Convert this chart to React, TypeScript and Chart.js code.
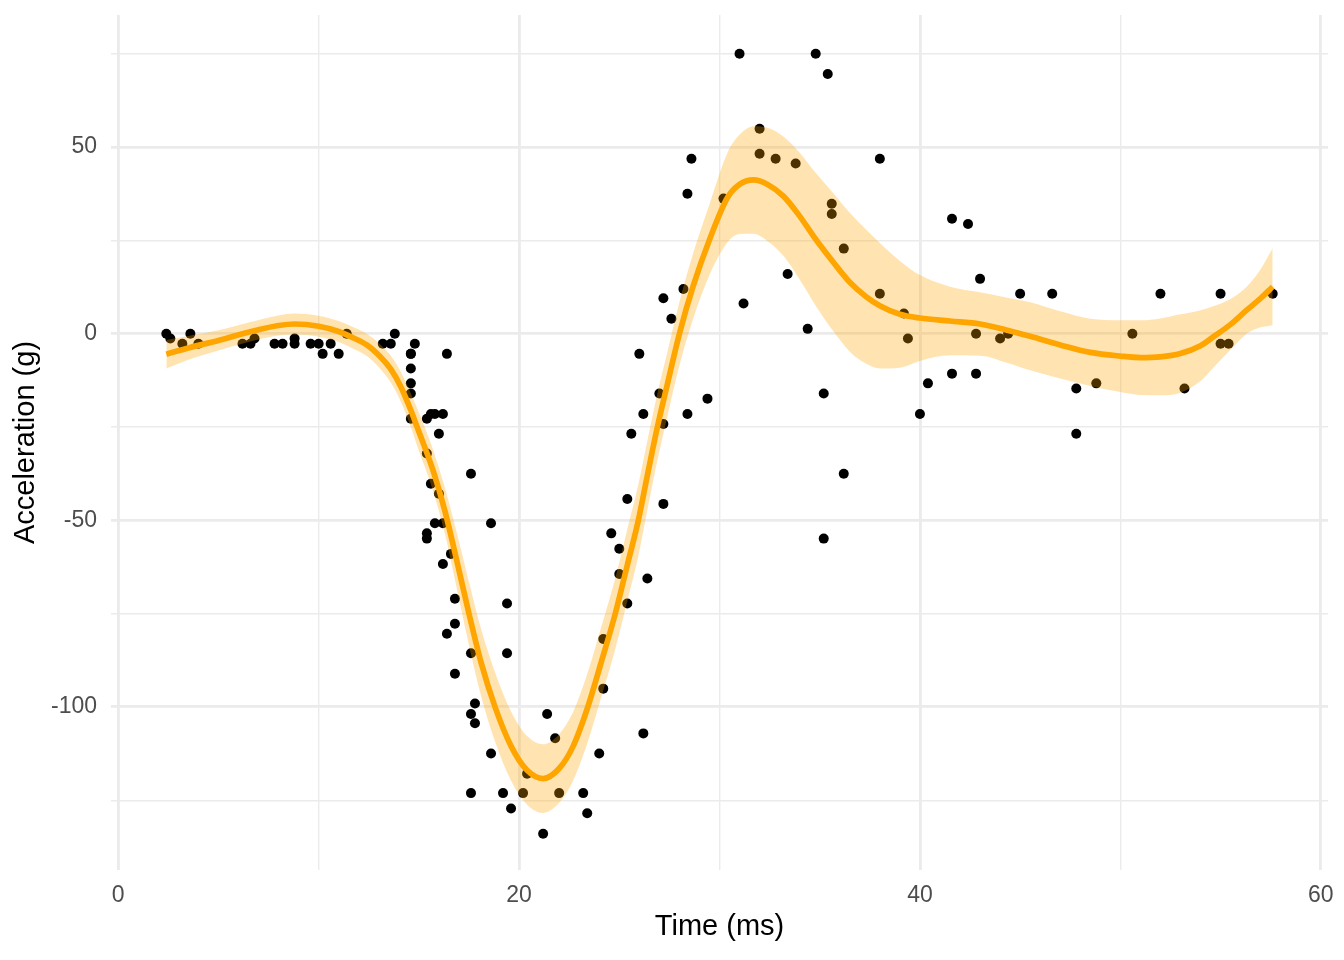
import { useEffect, useRef } from 'react';
import { Chart, registerables } from 'chart.js';

Chart.register(...registerables);

// raw observations (time in ms, head acceleration in g)
const times = [
  2.4, 2.6, 3.2, 3.6, 4.0, 6.2, 6.6, 6.8, 7.8, 8.2, 8.8, 8.8, 9.6, 10.0, 10.2, 10.6, 11.0, 11.4,
  13.2, 13.6, 13.8, 14.6, 14.6, 14.6, 14.6, 14.6, 14.6, 14.8, 15.4, 15.4, 15.4, 15.4, 15.6, 15.6,
  15.8, 15.8, 16.0, 16.0, 16.2, 16.2, 16.2, 16.4, 16.4, 16.6, 16.8, 16.8, 16.8, 17.6, 17.6, 17.6,
  17.6, 17.8, 17.8, 18.6, 18.6, 19.2, 19.4, 19.4, 19.6, 20.2, 20.4, 21.2, 21.4, 21.8, 22.0, 23.2,
  23.4, 24.0, 24.2, 24.2, 24.6, 25.0, 25.0, 25.4, 25.4, 25.6, 26.0, 26.2, 26.2, 26.4, 27.0, 27.2,
  27.2, 27.2, 27.6, 28.2, 28.4, 28.4, 28.6, 29.4, 30.2, 31.0, 31.2, 32.0, 32.0, 32.8, 33.4, 33.8,
  34.4, 34.8, 35.2, 35.2, 35.4, 35.6, 35.6, 36.2, 36.2, 38.0, 38.0, 39.2, 39.4, 40.0, 40.4, 41.6,
  41.6, 42.4, 42.8, 42.8, 43.0, 44.0, 44.4, 45.0, 46.6, 47.8, 47.8, 48.8, 50.6, 52.0, 53.2, 55.0,
  55.0, 55.4, 57.6,
];
const accel = [
  0.0, -1.3, -2.7, 0.0, -2.7, -2.7, -2.7, -1.3, -2.7, -2.7, -1.3, -2.7, -2.7, -2.7, -5.4, -2.7,
  -5.4, 0.0, -2.7, -2.7, 0.0, -13.3, -5.4, -5.4, -9.3, -16.0, -22.8, -2.7, -22.8, -32.1, -53.5,
  -54.9, -40.2, -21.5, -21.5, -50.8, -42.9, -26.8, -21.5, -50.8, -61.7, -5.4, -80.4, -59.0, -71.0,
  -91.1, -77.7, -37.5, -85.6, -123.1, -101.9, -99.1, -104.4, -112.5, -50.8, -123.1, -85.6, -72.3,
  -127.2, -123.1, -117.9, -134.0, -101.9, -108.4, -123.1, -123.1, -128.5, -112.5, -95.1, -81.8,
  -53.5, -64.4, -57.6, -72.3, -44.3, -26.8, -5.4, -107.1, -21.5, -65.6, -16.0, -45.6, -24.2, 9.5,
  4.0, 12.0, -21.5, 37.5, 46.9, -17.4, 36.2, 75.0, 8.1, 54.9, 48.2, 46.9, 16.0, 45.6, 1.3, 75.0,
  -16.0, -54.9, 69.6, 34.8, 32.1, -37.5, 22.8, 46.9, 10.7, 5.4, -1.3, -21.5, -13.3, 30.8, -10.7,
  29.4, 0.0, -10.7, 14.7, -1.3, 0.0, 10.7, 10.7, -26.8, -14.7, -13.3, 0.0, 10.7, -14.7, -2.7, 10.7,
  -2.7, 10.7,
];

// smoothed fit and its 95% band
const smoothTime = [
  2.4, 3.5, 5.0, 6.5, 8.0, 8.8, 10.0, 11.0, 11.6, 12.4, 13.1, 13.6, 14.1, 14.6, 14.9, 15.7, 16.3,
  16.9, 17.5, 18.1, 18.8, 19.6, 20.4, 21.2, 22.0, 22.7, 23.4, 24.1, 24.8, 25.4, 25.95, 26.4, 26.9,
  27.4, 28.0, 28.7, 29.5, 30.4, 31.0, 31.7, 32.4, 33.2, 34.0, 34.8, 35.7, 36.5, 37.3, 38.0, 39.0,
  40.0, 41.5, 43.0, 44.3, 45.5, 47.0, 48.5, 50.0, 51.0, 52.0, 53.0, 54.0, 54.6, 55.5, 56.3, 57.0,
  57.6,
];
const smoothFit = [
  -5.5, -3.8, -1.8, 0.4, 2.2, 2.6, 2.0, 0.6, -0.8, -3.0, -6.3, -9.5, -14.2, -20.5, -24.8, -36.5,
  -47.5, -61.0, -75.0, -88.0, -100.0, -110.5, -117.0, -119.2, -116.5, -110.5, -100.5, -88.0, -75.0,
  -62.0, -50.0, -38.0, -25.0, -13.5, 0.0, 13.0, 25.2, 36.5, 40.0, 41.2, 40.0, 36.8, 31.5, 25.3,
  19.0, 13.8, 10.0, 7.5, 5.2, 4.2, 3.4, 2.6, 1.0, -0.7, -3.0, -5.0, -6.0, -6.4, -6.2, -5.3, -3.2,
  -1.0, 2.5, 6.3, 9.5, 12.6,
];
const smoothLower = [
  -9.3, -7.0, -4.5, -2.2, -0.5, -0.2, -0.8, -2.2, -3.7, -6.0, -9.6, -13.1, -18.2, -25.0, -29.8,
  -42.0, -53.7, -68.5, -83.5, -97.0, -109.3, -119.8, -126.2, -128.4, -125.7, -119.7, -109.8, -97.4,
  -84.5, -71.6, -59.6, -47.3, -34.0, -22.1, -8.5, 4.2, 15.7, 24.5, 26.7, 26.8, 24.8, 20.8, 14.5,
  7.5, 0.5, -4.8, -8.0, -9.3, -9.1, -7.3, -5.8, -5.9, -7.7, -9.8, -12.0, -14.0, -15.6, -16.4, -16.5,
  -15.8, -12.7, -9.3, -4.3, 0.0, 1.7, 2.3,
];
const smoothUpper = [
  -1.7, -0.6, 0.9, 3.0, 4.9, 5.4, 4.8, 3.4, 2.1, 0.0, -3.0, -5.9, -10.2, -16.0, -19.8, -31.0, -41.3,
  -53.5, -66.5, -79.0, -90.7, -101.2, -107.8, -110.0, -107.3, -101.3, -91.2, -78.6, -65.5, -52.4,
  -40.4, -28.7, -16.0, -4.9, 8.5, 21.8, 34.7, 48.5, 53.3, 55.6, 55.2, 52.8, 48.5, 43.1, 37.5, 32.4,
  28.0, 24.3, 19.5, 15.7, 12.6, 11.1, 9.7, 8.4, 6.0, 4.0, 3.6, 3.6, 4.1, 5.2, 6.3, 7.3, 9.3, 12.6,
  17.3, 22.9,
];

const xTicks = [0, 10, 20, 30, 40, 50, 60];
const yTicks = [-125, -100, -75, -50, -25, 0, 25, 50, 75];

const FONT = "'Liberation Sans', Arial, Helvetica, sans-serif";

export default function App() {
  const canvasRef = useRef<HTMLCanvasElement>(null);
  const chartRef = useRef<any>(null);

  useEffect(() => {
    document.body.style.margin = '0';
    if (!canvasRef.current) return;
    if (chartRef.current) chartRef.current.destroy();

    const ctx = canvasRef.current.getContext('2d');
    if (!ctx) return;

    const pts = times.map((t, i) => ({ x: t, y: accel[i] }));
    const fit = smoothTime.map((t, i) => ({ x: t, y: smoothFit[i] }));
    const lo = smoothTime.map((t, i) => ({ x: t, y: smoothLower[i] }));
    const hi = smoothTime.map((t, i) => ({ x: t, y: smoothUpper[i] }));

    chartRef.current = new Chart(ctx, {
      type: 'scatter',
      data: {
        datasets: [
          {
            type: 'line',
            data: fit,
            borderColor: '#FFA500',
            borderWidth: 5.7,
            pointRadius: 0,
            fill: false,
            cubicInterpolationMode: 'monotone',
            order: 1,
          },
          {
            type: 'line',
            data: hi,
            borderWidth: 0,
            borderColor: 'rgba(0,0,0,0)',
            backgroundColor: 'rgba(255, 165, 0, 0.3)',
            pointRadius: 0,
            fill: '+1',
            cubicInterpolationMode: 'monotone',
            order: 2,
          },
          {
            type: 'line',
            data: lo,
            borderWidth: 0,
            borderColor: 'rgba(0,0,0,0)',
            pointRadius: 0,
            fill: false,
            cubicInterpolationMode: 'monotone',
            order: 2,
          },
          {
            type: 'scatter',
            data: pts,
            backgroundColor: '#000000',
            borderWidth: 0,
            pointRadius: 5,
            order: 3,
          },
        ],
      },
      options: {
        responsive: false,
        animation: false,
        layout: { padding: { left: 0, top: 15, right: 16, bottom: 0 } },
        plugins: {
          legend: { display: false },
          tooltip: { enabled: false },
        },
        scales: {
          x: {
            type: 'linear',
            min: -0.36,
            max: 60.36,
            afterBuildTicks: (scale: any) => {
              scale.ticks = xTicks.map(v => ({ value: v }));
            },
            afterFit: (scale: any) => {
              scale.height = 90;
              scale.paddingLeft = 0;
              scale.paddingRight = 0;
            },
            border: { display: false },
            grid: {
              color: '#EBEBEB',
              lineWidth: (c: any) => (c.tick && c.tick.value % 20 === 0 ? 2.85 : 1.42),
              drawTicks: false,
            },
            ticks: {
              autoSkip: false,
              maxRotation: 0,
              padding: 12,
              color: '#4D4D4D',
              font: { family: FONT, size: 23 },
              callback: (v: any) => (v % 20 === 0 ? String(v) : ''),
            },
            title: {
              display: true,
              text: 'Time (ms)',
              color: '#000000',
              font: { family: FONT, size: 29 },
              padding: { top: 0, bottom: 16 },
            },
          },
          y: {
            type: 'linear',
            min: -143.7,
            max: 85.4,
            afterBuildTicks: (scale: any) => {
              scale.ticks = yTicks.map(v => ({ value: v }));
            },
            afterFit: (scale: any) => {
              scale.width = 111;
              scale.paddingTop = 0;
              scale.paddingBottom = 0;
            },
            border: { display: false },
            grid: {
              color: '#EBEBEB',
              lineWidth: (c: any) => (c.tick && c.tick.value % 50 === 0 ? 2.85 : 1.42),
              drawTicks: false,
            },
            ticks: {
              autoSkip: false,
              padding: 14,
              color: '#4D4D4D',
              font: { family: FONT, size: 23 },
              callback: (v: any) => (v % 50 === 0 ? String(v) : ''),
            },
            title: {
              display: true,
              text: 'Acceleration (g)',
              color: '#000000',
              font: { family: FONT, size: 29 },
              padding: { top: 9, bottom: 0 },
            },
          },
        },
      },
    });

    return () => {
      if (chartRef.current) {
        chartRef.current.destroy();
        chartRef.current = null;
      }
    };
  }, []);

  return (
    <div style={{ width: 1344, height: 960, background: '#FFFFFF' }}>
      <canvas ref={canvasRef} width={1344} height={960}></canvas>
    </div>
  );
}
